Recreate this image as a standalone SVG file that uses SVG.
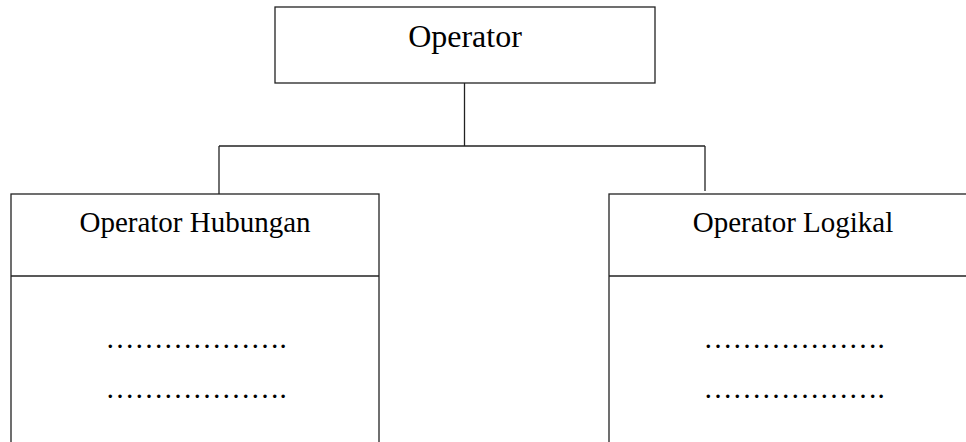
<svg xmlns="http://www.w3.org/2000/svg" width="966" height="442" viewBox="0 0 966 442">
<style>
.box{fill:#fff;stroke:#222;stroke-width:1.3}
.ln{fill:none;stroke:#222;stroke-width:1.3}
.t{font-family:"Liberation Serif","Times New Roman",serif;fill:#000;text-anchor:middle}
.big{font-size:32px}
.mid{font-size:29px}
</style>
<rect width="966" height="442" fill="#fff"/>
<g id="connectors">
<line class="ln" x1="464.5" y1="83" x2="464.5" y2="146"/>
<line class="ln" x1="219" y1="146" x2="705" y2="146"/>
<line class="ln" x1="219" y1="146" x2="219" y2="194"/>
<line class="ln" x1="705" y1="146" x2="705" y2="191"/>
</g>
<g id="operator">
<rect class="box" x="275" y="7" width="380" height="76"/>
<text class="t big" x="465" y="47">Operator</text>
</g>
<g id="operator-hubungan">
<rect class="box" x="11" y="194" width="368" height="270"/>
<line class="ln" x1="11" y1="276" x2="379" y2="276"/>
<text class="t mid" x="195" y="232">Operator Hubungan</text>
<text class="t mid" x="196" y="348">……………….</text>
<text class="t mid" x="196" y="398">……………….</text>
</g>
<g id="operator-logikal">
<rect class="box" x="609" y="194" width="370" height="270"/>
<line class="ln" x1="609" y1="276" x2="979" y2="276"/>
<text class="t mid" x="793" y="232">Operator Logikal</text>
<text class="t mid" x="794" y="348">……………….</text>
<text class="t mid" x="794" y="398">……………….</text>
</g>
</svg>
